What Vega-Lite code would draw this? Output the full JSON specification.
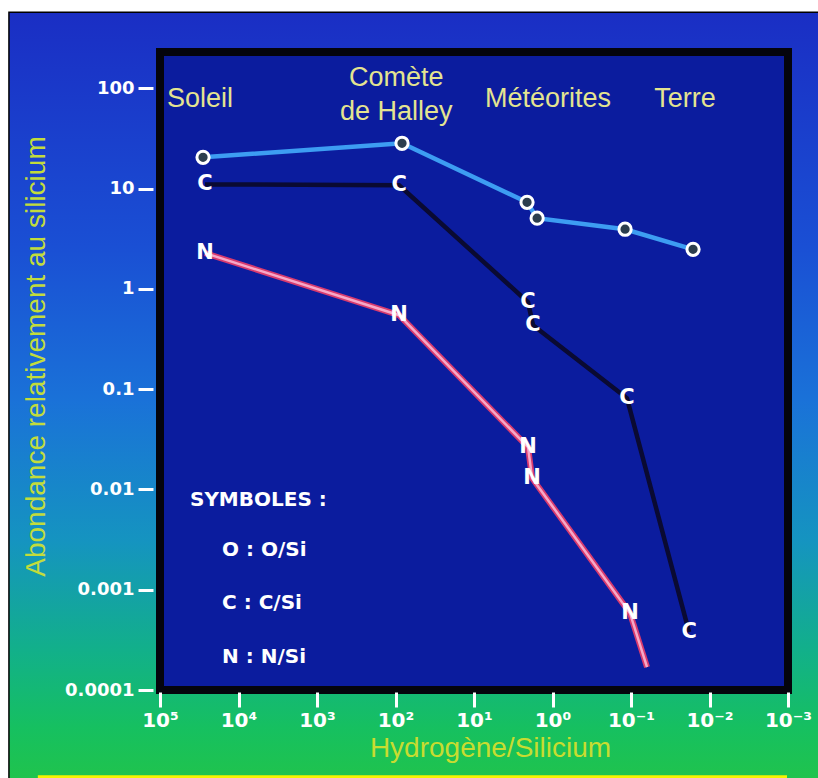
{
  "$schema": "https://vega.github.io/schema/vega-lite/v6.json",
  "width": 628,
  "height": 638,
  "autosize": {"type": "none"},
  "padding": {"left": 160, "top": 52, "right": 30, "bottom": 88},
  "background": "white",
  "config": {
    "view": {"stroke": null},
    "axis": {"zindex": 1, "grid": false, "domain": false}
  },
  "datasets": {
    "frame": [{"x": 8400000, "x2": 0.00029, "y": 572, "y2": 0.00001}],
    "strip": [{"x": 3600000, "x2": 0.00103, "y": 0.0000141, "y2": 0.00001}],
    "box": [{"x": 100000, "x2": 0.001, "y": 230, "y2": 0.0001}],
    "series": [
      {"series": "O", "label": "O", "x": 28300, "y": 20.5},
      {"series": "O", "label": "O", "x": 82.6, "y": 28.3},
      {"series": "O", "label": "O", "x": 2.11, "y": 7.3},
      {"series": "O", "label": "O", "x": 1.57, "y": 5.06},
      {"series": "O", "label": "O", "x": 0.119, "y": 3.93},
      {"series": "O", "label": "O", "x": 0.0162, "y": 2.48},
      {"series": "C", "label": "C", "x": 26700, "y": 11.0},
      {"series": "C", "label": "C", "x": 90, "y": 10.8},
      {"series": "C", "label": "C", "x": 2.05, "y": 0.735},
      {"series": "C", "label": "C", "x": 1.77, "y": 0.434},
      {"series": "C", "label": "C", "x": 0.1125, "y": 0.081},
      {"series": "C", "label": "C", "x": 0.0182, "y": 0.000377},
      {"series": "N", "label": "N", "x": 26700, "y": 2.27},
      {"series": "N", "label": "N", "x": 90, "y": 0.546},
      {"series": "N", "label": "N", "x": 2.05, "y": 0.0264},
      {"series": "N", "label": "N", "x": 1.82, "y": 0.01294},
      {"series": "N", "label": "N", "x": 0.103, "y": 0.000583},
      {"series": "N", "label": "", "x": 0.0625, "y": 0.000169}
    ],
    "categories": [
      {"text": "Soleil", "x": 31000, "y": 78.2},
      {"text": "Comète", "x": 98, "y": 127},
      {"text": "de Halley", "x": 98, "y": 58},
      {"text": "Météorites", "x": 1.14, "y": 78.2},
      {"text": "Terre", "x": 0.0205, "y": 78.2}
    ],
    "legend": [
      {"text": "SYMBOLES :", "x": 41500, "y": 0.00785},
      {"text": "O : O/Si", "x": 16200, "y": 0.00249},
      {"text": "C : C/Si", "x": 16200, "y": 0.000738},
      {"text": "N : N/Si", "x": 16200, "y": 0.000214}
    ]
  },
  "encoding": {
    "x": {
      "field": "x",
      "type": "quantitative",
      "scale": {"type": "log", "domain": [0.001, 100000], "reverse": true, "nice": false},
      "axis": {
        "zindex": 2,
        "orient": "bottom",
        "values": [100000, 10000, 1000, 100, 10, 1, 0.1, 0.01, 0.001],
        "labelExpr": "'10' + ['⁻³','⁻²','⁻¹','⁰','¹','²','³','⁴','⁵'][round(log(datum.value)/LN10)+3]",
        "offset": 2,
        "tickSize": 15,
        "tickColor": "white",
        "tickWidth": 3,
        "labelPadding": 3,
        "labelFont": "DejaVu Sans",
        "labelFontSize": 20,
        "labelFontWeight": "bold",
        "labelColor": "white",
        "labelFlush": false,
        "labelOverlap": false,
        "title": "Hydrogène/Silicium",
        "titleFont": "Liberation Sans",
        "titleFontSize": 28,
        "titleFontWeight": "normal",
        "titleColor": "#c8dc30",
        "titleX": 330,
        "titleY": 56,
        "titleBaseline": "middle",
        "titleAlign": "center"
      }
    },
    "y": {
      "field": "y",
      "type": "quantitative",
      "scale": {"type": "log", "domain": [0.0001, 230], "nice": false},
      "axis": {
        "zindex": 2,
        "orient": "left",
        "values": [100, 10, 1, 0.1, 0.01, 0.001, 0.0001],
        "format": "~g",
        "offset": 7,
        "tickSize": 15,
        "tickColor": "white",
        "tickWidth": 3,
        "labelPadding": 4,
        "labelFont": "DejaVu Sans",
        "labelFontSize": 18,
        "labelFontWeight": "bold",
        "labelColor": "white",
        "labelFlush": false,
        "labelOverlap": false,
        "title": "Abondance relativement au silicium",
        "titleFont": "Liberation Sans",
        "titleFontSize": 28,
        "titleFontWeight": "normal",
        "titleColor": "#c2dc3c",
        "titleX": -117,
        "titleY": 304,
        "titleAngle": -90,
        "titleBaseline": "middle",
        "titleAlign": "center"
      }
    }
  },
  "layer": [
    {
      "data": {"name": "frame"},
      "mark": {
        "type": "rect",
        "stroke": "black",
        "strokeWidth": 1.5,
        "fill": {
          "gradient": "linear",
          "x1": 0, "y1": 0, "x2": 0, "y2": 1,
          "stops": [
            {"offset": 0, "color": "#1a2ec4"},
            {"offset": 0.3, "color": "#1a4fd4"},
            {"offset": 0.5, "color": "#1a72d8"},
            {"offset": 0.68, "color": "#1594c0"},
            {"offset": 0.82, "color": "#12b08a"},
            {"offset": 0.92, "color": "#16c060"},
            {"offset": 1, "color": "#22c448"}
          ]
        }
      },
      "encoding": {"x2": {"field": "x2"}, "y2": {"field": "y2"}}
    },
    {
      "data": {"name": "strip"},
      "mark": {"type": "rect", "fill": "#f6f400"},
      "encoding": {"x2": {"field": "x2"}, "y2": {"field": "y2"}}
    },
    {
      "data": {"name": "box"},
      "mark": {"type": "rect", "fill": "#0b1c9e", "stroke": "#04040c", "strokeWidth": 8},
      "encoding": {"x2": {"field": "x2"}, "y2": {"field": "y2"}}
    },
    {
      "data": {"name": "series"},
      "transform": [{"filter": "datum.series === 'O'"}],
      "mark": {"type": "line", "color": "#3d9df2", "strokeWidth": 4.5},
      "encoding": {}
    },
    {
      "data": {"name": "series"},
      "transform": [{"filter": "datum.series === 'C'"}],
      "mark": {"type": "line", "color": "#0a0a32", "strokeWidth": 4.5},
      "encoding": {}
    },
    {
      "data": {"name": "series"},
      "transform": [{"filter": "datum.series === 'N'"}],
      "mark": {"type": "line", "color": "#d83a6e", "strokeWidth": 6},
      "encoding": {}
    },
    {
      "data": {"name": "series"},
      "transform": [{"filter": "datum.series === 'N'"}],
      "mark": {"type": "line", "color": "#f7a8c8", "strokeWidth": 2.5},
      "encoding": {}
    },
    {
      "data": {"name": "series"},
      "transform": [{"filter": "datum.series === 'O'"}],
      "mark": {"type": "point", "shape": "circle", "filled": false, "fill": "#2c3e4e", "fillOpacity": 1, "stroke": "white", "strokeWidth": 3, "size": 150, "opacity": 1},
      "encoding": {}
    },
    {
      "data": {"name": "series"},
      "transform": [{"filter": "datum.series !== 'O' && datum.label !== ''"}],
      "mark": {"type": "text", "font": "DejaVu Sans", "fontSize": 21, "fontWeight": "bold", "fill": "white", "align": "center", "baseline": "middle"},
      "encoding": {"text": {"field": "label"}}
    },
    {
      "data": {"name": "categories"},
      "mark": {"type": "text", "font": "Liberation Sans", "fontSize": 27, "fill": "#e4e490", "align": "center", "baseline": "middle"},
      "encoding": {"text": {"field": "text"}}
    },
    {
      "data": {"name": "legend"},
      "mark": {"type": "text", "font": "DejaVu Sans", "fontSize": 20, "fontWeight": "bold", "fill": "white", "align": "left", "baseline": "middle"},
      "encoding": {"text": {"field": "text"}}
    }
  ]
}
